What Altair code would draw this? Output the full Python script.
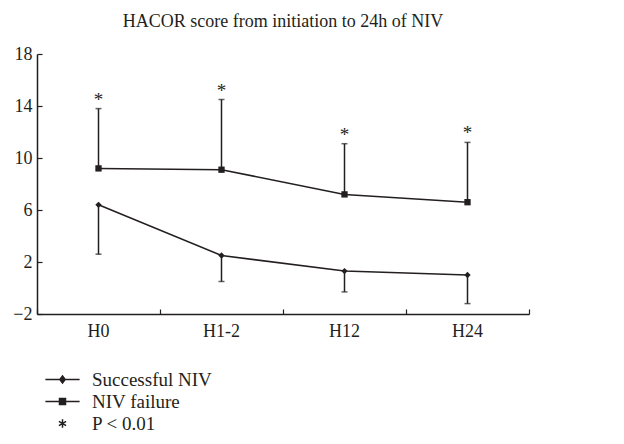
import altair as alt
import pandas as pd

times = ["H0", "H1-2", "H12", "H24"]
success_mean = [6.4, 2.5, 1.3, 1.0]
success_lower = [2.6, 0.5, -0.3, -1.2]
failure_mean = [9.2, 9.1, 7.2, 6.6]
failure_upper = [13.8, 14.5, 11.1, 11.2]
series_names = ["Successful NIV", "NIV failure"]
legend_labels = ["Successful NIV", "NIV failure", "P < 0.01"]
y_ticks = [-2, 2, 6, 10, 14, 18]
title_text = "HACOR score from initiation to 24h of NIV"

rows = []
for i, t in enumerate(times):
    rows.append({"time": t, "series": series_names[0], "mean": success_mean[i], "end": success_lower[i]})
    rows.append({"time": t, "series": series_names[1], "mean": failure_mean[i], "end": failure_upper[i]})
df = pd.DataFrame(rows)
fail_df = df[df["series"] == series_names[1]]
legend_df = pd.DataFrame({"label": legend_labels})

INK = "#231f20"
FONT = "Liberation Serif"
FS = 18

xscale = alt.Scale(type="band", domain=times, paddingInner=0, paddingOuter=0)
yscale = alt.Scale(domain=[-2, 18], nice=False, zero=False)

main_x_axis = alt.Axis(title=None, orient="bottom", tickSize=0, labelPadding=8, domainColor=INK,
                       domainWidth=1.5, labelFont=FONT, labelFontSize=FS, labelColor=INK,
                       grid=False, labelAngle=0)
main_y_axis = alt.Axis(title=None, orient="left", values=y_ticks, tickSize=0, labelPadding=5,
                       domainColor=INK, domainWidth=1.5, labelFont=FONT, labelFontSize=FS,
                       labelColor=INK, grid=False)
tick_x_axis = alt.Axis(title=None, orient="bottom", domain=False, labels=False, ticks=True,
                       tickBand="extent", tickSize=5, offset=-5, tickColor=INK, tickWidth=1.2, grid=False)
tick_y_axis = alt.Axis(title=None, orient="left", domain=False, labels=False, ticks=True,
                       values=y_ticks, tickSize=5, offset=-5, tickColor=INK, tickWidth=1.2, grid=False)

def X(axis=None):
    return alt.X("time:N", scale=xscale, bandPosition=0.5, axis=axis)

base = alt.Chart(df)

lines = base.mark_line(color=INK, strokeWidth=1.5).encode(
    x=X(main_x_axis),
    y=alt.Y("mean:Q", scale=yscale, axis=main_y_axis),
    detail="series:N",
)

errs = base.mark_rule(color=INK, strokeWidth=1.5).encode(
    x=X(),
    y=alt.Y("mean:Q", scale=yscale, axis=None),
    y2="end:Q",
)

caps = base.mark_tick(color=INK, thickness=1.5, size=6, orient="horizontal").encode(
    x=X(),
    y=alt.Y("end:Q", scale=yscale, axis=None),
)

points = base.mark_point(filled=True, color=INK, opacity=1, size=40).encode(
    x=X(),
    y=alt.Y("mean:Q", scale=yscale, axis=None),
    shape=alt.Shape("series:N", scale=alt.Scale(domain=series_names, range=["diamond", "square"]), legend=None),
)

stars = alt.Chart(fail_df).mark_text(text="*", dy=-9, baseline="middle", fontSize=19, font=FONT, color=INK).encode(
    x=X(),
    y=alt.Y("end:Q", scale=yscale, axis=None),
)

tickaxes = alt.Chart(fail_df).mark_point(opacity=0).encode(
    x=X(tick_x_axis),
    y=alt.Y("mean:Q", scale=yscale, axis=tick_y_axis),
)

# legend glyphs drawn with strokes only (solid markers made of stacked strokes)
line_path = "M-2.85,0H2.85"
diamond_path = ("M0,-0.6L0.45,0L0,0.6L-0.45,0Z"
                "M-0.11,-0.45H0.11M-0.22,-0.3H0.22M-0.34,-0.15H0.34"
                "M-0.11,0.45H0.11M-0.22,0.3H0.22M-0.34,0.15H0.34")
square_path = ("M-0.5,-0.5H0.5V0.5H-0.5Z"
               "M-0.5,-0.3H0.5M-0.5,-0.1H0.5M-0.5,0.1H0.5M-0.5,0.3H0.5")
star_path = "M0,-0.7V0.7M-0.6,-0.35L0.6,0.35M-0.6,0.35L0.6,-0.35"

legend_layer = alt.Chart(legend_df).transform_filter("false").mark_point(
    filled=False, color=INK, strokeWidth=1.5
).encode(
    shape=alt.Shape(
        "label:N",
        scale=alt.Scale(domain=legend_labels,
                        range=[line_path + diamond_path, line_path + square_path, star_path]),
        legend=alt.Legend(orient="none", legendX=16, legendY=316, title=None, labelFont=FONT,
                          labelFontSize=19, labelColor=INK, symbolSize=144, symbolStrokeWidth=1.5,
                          symbolStrokeColor=INK, symbolFillColor=INK, symbolOpacity=1,
                          labelOffset=20, rowPadding=2, padding=0),
    ),
)

chart = alt.layer(lines, errs, caps, points, stars, tickaxes, legend_layer).resolve_scale(
    shape="independent"
).resolve_axis(x="independent", y="independent").properties(
    width=492,
    height=260,
    autosize=alt.AutoSizeParams(type="none"),
    padding={"left": 29, "top": 46, "right": 87, "bottom": 122},
    title=alt.TitleParams(title_text, font=FONT, fontSize=18, fontWeight="normal", color=INK,
                          anchor="middle", offset=14),
).configure_view(stroke=None)

chart.save("out.html", embed_options={"renderer": "svg", "actions": False})
